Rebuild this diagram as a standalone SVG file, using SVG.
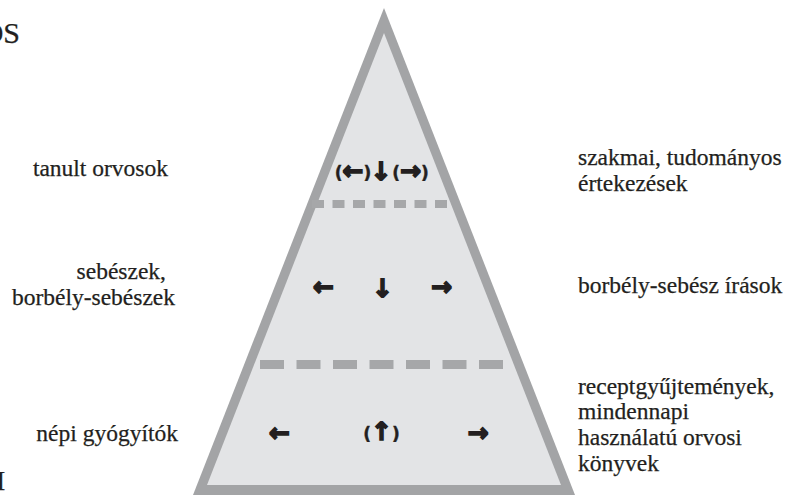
<svg xmlns="http://www.w3.org/2000/svg" width="785" height="495" viewBox="0 0 785 495">
<style>
.lbl{font-size:23.5px;fill:#231f20;stroke:#231f20;stroke-width:0.25}
.arr{font-weight:bold;font-size:25px;fill:#231f20;stroke:#231f20;stroke-width:1.6;text-anchor:middle}
.par{font-size:17px;stroke-width:0.4}
.dash{stroke:#a6a7a9;fill:none}
</style>
<rect width="785" height="495" fill="#ffffff"/>
<g id="pyramid">
<polygon points="384,8 575,495 193,495" fill="#a3a4a6"/>
<polygon points="384,33 561,485 207,485" fill="#e3e4e6"/>
</g>
<g id="connectors">
<line class="dash" x1="312" y1="204" x2="452" y2="204" stroke-width="8" stroke-dasharray="12 8.5"/>
<line class="dash" x1="260" y1="364.5" x2="504" y2="364.5" stroke-width="9" stroke-dasharray="24 12.5"/>
</g>
<g id="arrows" font-family="DejaVu Sans, sans-serif">
<g id="level-top">
<text class="arr" x="353" y="179"><tspan class="par">(</tspan>←<tspan class="par">)</tspan></text>
<text class="arr" x="381" y="180">↓</text>
<text class="arr" x="410.5" y="179"><tspan class="par">(</tspan>→<tspan class="par">)</tspan></text>
</g>
<g id="level-middle">
<text class="arr" x="323.5" y="295">←</text>
<text class="arr" x="382.5" y="297">↓</text>
<text class="arr" x="441.5" y="295">→</text>
</g>
<g id="level-bottom">
<text class="arr" x="279.5" y="441">←</text>
<text class="arr" x="381.5" y="440"><tspan class="par">(</tspan>↑<tspan class="par">)</tspan></text>
<text class="arr" x="478" y="441">→</text>
</g>
</g>
<g id="left-labels" font-family="Liberation Serif, Times New Roman, serif">
<text class="lbl" x="20" y="43" text-anchor="end" style="font-size:30px">OS</text>
<text class="lbl" x="-4" y="490" style="font-size:28px">I</text>
<text class="lbl" x="168" y="176" text-anchor="end">tanult orvosok</text>
<text class="lbl" x="166" y="279" text-anchor="end">sebészek,</text>
<text class="lbl" x="175" y="305" text-anchor="end">borbély-sebészek</text>
<text class="lbl" x="178" y="441" text-anchor="end">népi gyógyítók</text>
</g>
<g id="right-labels" font-family="Liberation Serif, Times New Roman, serif">
<text class="lbl" x="578" y="165">szakmai, tudományos</text>
<text class="lbl" x="578" y="191">értekezések</text>
<text class="lbl" x="578" y="293">borbély-sebész írások</text>
<text class="lbl" x="578" y="394">receptgyűjtemények,</text>
<text class="lbl" x="578" y="419">mindennapi</text>
<text class="lbl" x="578" y="445">használatú orvosi</text>
<text class="lbl" x="578" y="471">könyvek</text>
</g>
</svg>
